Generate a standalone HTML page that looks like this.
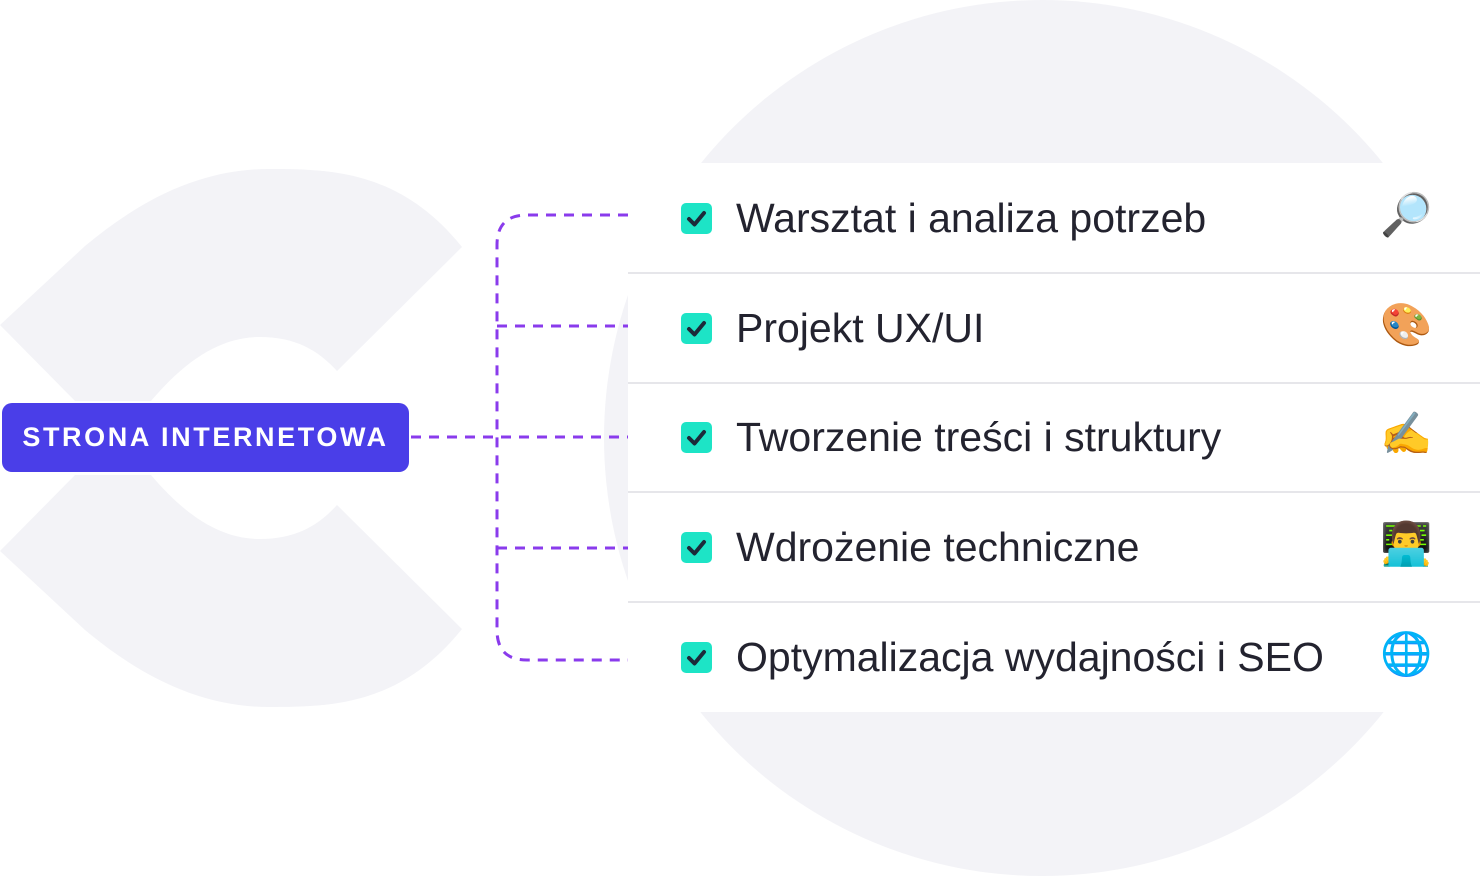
<!DOCTYPE html>
<html><head><meta charset="utf-8"><style>
body{margin:0;width:1480px;height:877px;overflow:hidden;background:#fff;position:relative;font-family:"Liberation Sans",sans-serif}
.row{position:absolute;left:628px;width:852px;height:110px}
.cb{position:absolute;left:53px;top:40px;width:31px;height:31px;border-radius:5px;background:#1de4c6}
.txt{position:absolute;left:108px;top:31px;font-size:41px;line-height:48px;color:#23232f;white-space:nowrap}
.em{position:absolute;left:752px;top:28px;font-size:42px;width:50px;text-align:center;font-family:"Noto Color Emoji","DejaVu Sans",sans-serif}
</style></head><body>
<svg width="1480" height="877" style="position:absolute;left:0;top:0">
<circle cx="1042" cy="438" r="438" fill="#f3f3f7"/>
<path d="M462,247 C400,170 330,169 269,169 C200,169 140,200 85,246 L0,325 L75,401 L151,401 C190,355 225,337 260,337 C295,337 318,350 337,371 Z" fill="#f3f3f7"/>
<path d="M462,629 C400,706 330,707 269,707 C200,707 140,676 85,630 L0,551 L75,475 L151,475 C190,521 225,539 260,539 C295,539 318,526 337,505 Z" fill="#f3f3f7"/>
<rect x="628" y="163" width="852" height="549" fill="#fff"/>
<g stroke="#e6e6ea" stroke-width="2">
<line x1="628" y1="273" x2="1480" y2="273"/><line x1="628" y1="383" x2="1480" y2="383"/>
<line x1="628" y1="492" x2="1480" y2="492"/><line x1="628" y1="602" x2="1480" y2="602"/>
</g>
<g stroke="#8a3bec" stroke-width="3" fill="none" stroke-dasharray="10 8">
<path d="M628,215 L527,215 Q497,215 497,245 L497,630 Q497,660 527,660 L628,660"/>
<line x1="497" y1="326" x2="628" y2="326"/>
<line x1="411" y1="437" x2="628" y2="437"/>
<line x1="497" y1="548" x2="628" y2="548"/>
</g>
</svg>
<div style="position:absolute;left:2px;top:403px;width:407px;height:69px;border-radius:10px;background:#4a3ee8;color:#fff;font-weight:bold;font-size:27px;letter-spacing:2.6px;text-align:center;line-height:69px">STRONA INTERNETOWA</div>
<div class="row" style="top:163px"><div class="cb"></div><svg style="position:absolute;left:53px;top:40px" width="31" height="31"><path d="M8,16 L13.5,21.5 L23,10" stroke="#1c2a3a" stroke-width="4" fill="none" stroke-linecap="round" stroke-linejoin="round"/></svg><div class="txt">Warsztat i analiza potrzeb</div><div class="em">🔎</div></div>
<div class="row" style="top:273px"><div class="cb"></div><svg style="position:absolute;left:53px;top:40px" width="31" height="31"><path d="M8,16 L13.5,21.5 L23,10" stroke="#1c2a3a" stroke-width="4" fill="none" stroke-linecap="round" stroke-linejoin="round"/></svg><div class="txt">Projekt UX/UI</div><div class="em">🎨</div></div>
<div class="row" style="top:382px"><div class="cb"></div><svg style="position:absolute;left:53px;top:40px" width="31" height="31"><path d="M8,16 L13.5,21.5 L23,10" stroke="#1c2a3a" stroke-width="4" fill="none" stroke-linecap="round" stroke-linejoin="round"/></svg><div class="txt">Tworzenie treści i struktury</div><div class="em">✍️</div></div>
<div class="row" style="top:492px"><div class="cb"></div><svg style="position:absolute;left:53px;top:40px" width="31" height="31"><path d="M8,16 L13.5,21.5 L23,10" stroke="#1c2a3a" stroke-width="4" fill="none" stroke-linecap="round" stroke-linejoin="round"/></svg><div class="txt">Wdrożenie techniczne</div><div class="em">👨‍💻</div></div>
<div class="row" style="top:602px"><div class="cb"></div><svg style="position:absolute;left:53px;top:40px" width="31" height="31"><path d="M8,16 L13.5,21.5 L23,10" stroke="#1c2a3a" stroke-width="4" fill="none" stroke-linecap="round" stroke-linejoin="round"/></svg><div class="txt">Optymalizacja wydajności i SEO</div><div class="em">🌐</div></div>
</body></html>
